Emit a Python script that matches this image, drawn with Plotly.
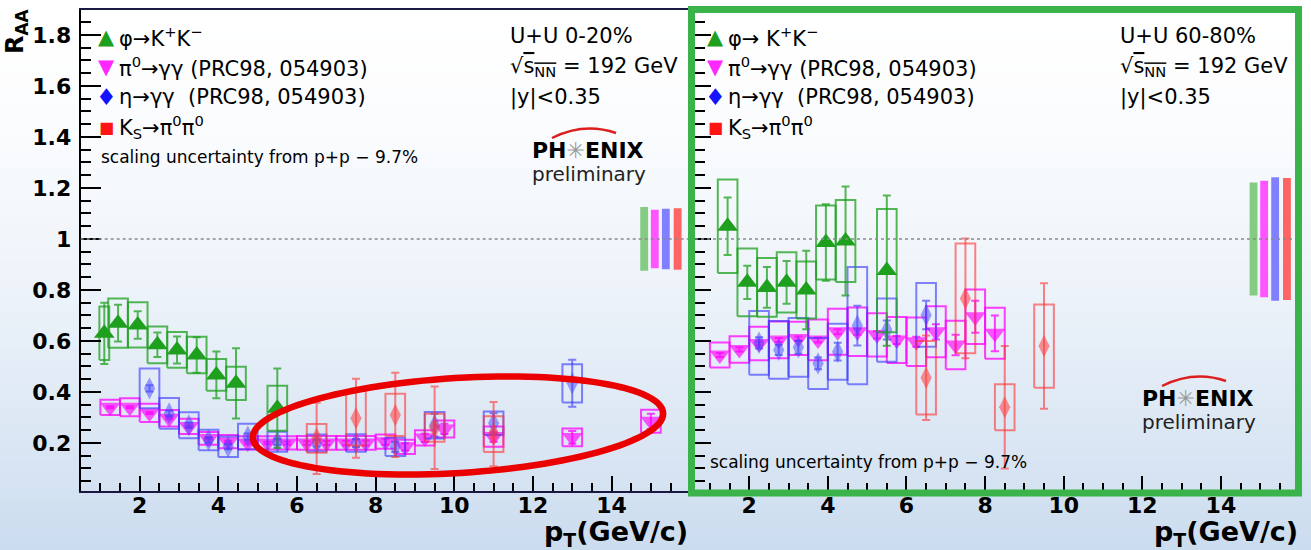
import numpy as np
import plotly.graph_objects as go

W, H = 1311, 550

# ---------------- U+U 0-20% ----------------
PHI_C_X = [1.1, 1.45, 1.95, 2.45, 2.95, 3.45, 3.95, 4.45, 5.5]
PHI_C_Y = [0.63, 0.67, 0.663, 0.585, 0.565, 0.545, 0.467, 0.434, 0.336]
PHI_C_STAT = [0.12, 0.072, 0.054, 0.048, 0.053, 0.07, 0.092, 0.138, 0.156]
PHI_C_SYS = [0.105, 0.097, 0.089, 0.072, 0.07, 0.072, 0.062, 0.065, 0.088]
PHI_C_HW = [0.125, 0.25, 0.25, 0.25, 0.25, 0.25, 0.25, 0.25, 0.25]

PI0_C_X = [1.25, 1.75, 2.25, 2.75, 3.25, 3.75, 4.25, 4.75, 5.25, 5.75, 6.25,
           6.75, 7.25, 7.75, 8.25, 8.75, 9.25, 9.75, 11.0, 13.0, 15.0]
PI0_C_Y = [0.34, 0.34, 0.318, 0.297, 0.265, 0.218, 0.205, 0.2, 0.2, 0.2, 0.2,
           0.2, 0.2, 0.2, 0.205, 0.185, 0.22, 0.255, 0.225, 0.222, 0.285]
PI0_C_STAT = [0.004, 0.004, 0.004, 0.004, 0.004, 0.004, 0.004, 0.005, 0.005, 0.006, 0.007,
              0.008, 0.009, 0.01, 0.012, 0.014, 0.016, 0.02, 0.02, 0.025, 0.03]
PI0_C_SYS = [0.03, 0.035, 0.036, 0.032, 0.03, 0.025, 0.026, 0.026, 0.026, 0.026, 0.027,
             0.027, 0.027, 0.027, 0.028, 0.028, 0.03, 0.033, 0.04, 0.035, 0.045]

ETA_C_X = [2.25, 2.75, 3.25, 3.75, 4.25, 4.75, 5.5, 6.5, 7.5, 8.5, 9.5, 11.0, 13.0]
ETA_C_Y = [0.414, 0.316, 0.27, 0.212, 0.185, 0.225, 0.205, 0.2, 0.2, 0.185, 0.27, 0.277, 0.434]
ETA_C_STAT = [0.012, 0.01, 0.01, 0.01, 0.01, 0.012, 0.012, 0.014, 0.016, 0.02, 0.045, 0.04, 0.092]
ETA_C_SYS = [0.078, 0.06, 0.051, 0.04, 0.04, 0.05, 0.039, 0.033, 0.034, 0.036, 0.052, 0.046, 0.075]

KS_C_X = [6.5, 7.5, 8.5, 9.5, 11.0]
KS_C_Y = [0.218, 0.297, 0.31, 0.26, 0.235]
KS_C_STAT = [0.14, 0.155, 0.165, 0.162, 0.126]
KS_C_SYS = [0.056, 0.107, 0.083, 0.055, 0.07]

# global scaling uncertainties (phi, pi0, eta, Ks)
SCALE_C = [0.125, 0.115, 0.119, 0.121]

# ---------------- U+U 60-80% ----------------
PHI_P_X = [1.45, 1.95, 2.45, 2.95, 3.45, 3.95, 4.45, 5.5]
PHI_P_Y = [1.05, 0.83, 0.81, 0.83, 0.80, 0.986, 0.992, 0.876]
PHI_P_STAT = [0.113, 0.065, 0.08, 0.084, 0.154, 0.15, 0.214, 0.295]
PHI_P_SYS = [0.183, 0.133, 0.115, 0.118, 0.112, 0.145, 0.161, 0.242]

PI0_P_X = [1.25, 1.75, 2.25, 2.75, 3.25, 3.75, 4.25, 4.75, 5.25, 5.75, 6.25, 6.75, 7.25, 7.75, 8.25]
PI0_P_Y = [0.545, 0.567, 0.59, 0.604, 0.61, 0.604, 0.636, 0.636, 0.624, 0.604, 0.597, 0.636, 0.584, 0.695, 0.63]
PI0_P_STAT = [0.008, 0.008, 0.008, 0.008, 0.008, 0.01, 0.01, 0.012, 0.014, 0.016, 0.02, 0.03, 0.04, 0.063, 0.07]
PI0_P_SYS = [0.049, 0.052, 0.066, 0.072, 0.065, 0.08, 0.09, 0.095, 0.085, 0.09, 0.095, 0.1, 0.095, 0.107, 0.1]

ETA_P_X = [2.25, 2.75, 3.25, 3.75, 4.25, 4.75, 5.5, 6.5]
ETA_P_Y = [0.593, 0.565, 0.575, 0.512, 0.558, 0.66, 0.643, 0.702]
ETA_P_STAT = [0.022, 0.02, 0.025, 0.023, 0.035, 0.078, 0.037, 0.056]
ETA_P_SYS = [0.125, 0.113, 0.115, 0.1, 0.11, 0.23, 0.124, 0.125]

KS_P_X = [6.5, 7.5, 8.5, 9.5]
KS_P_Y = [0.456, 0.767, 0.34, 0.58]
KS_P_STAT = [0.166, 0.235, 0.24, 0.246]
KS_P_SYS = [0.144, 0.215, 0.09, 0.163]

SCALE_P = [0.222, 0.228, 0.242, 0.239]
SCALE_X = [14.83, 15.1, 15.38, 15.68]

Y_TICKS = [0.2, 0.4, 0.6, 0.8, 1.0, 1.2, 1.4, 1.6, 1.8]
Y_TICKTEXT = ["0.2", "0.4", "0.6", "0.8", "1", "1.2", "1.4", "1.6", "1.8"]
X_TICKS_L = [2, 4, 6, 8, 10, 12, 14]
X_TICKS_R = [2, 4, 6, 8, 10, 12, 14, 16]

# ---------------- styling ----------------
FONT = "DejaVu Sans"
GREEN_MK, GREEN_BOX = "rgb(30,160,30)", "rgba(30,160,30,0.75)"
MAG_MK, MAG_BOX = "rgba(255,0,255,0.65)", "rgba(255,0,255,0.75)"
BLUE_MK, BLUE_BOX = "rgba(70,70,255,0.5)", "rgba(50,50,255,0.6)"
RED_MK, RED_BOX = "rgba(255,60,60,0.55)", "rgba(255,50,50,0.6)"
BAR_COLORS = ["#84cc84", "#ff55ff", "#8080ff", "#ff6464"]


def px_x(p):
    return p / W


def px_y(p):
    return 1 - p / H


def box_path(xs, ys, sys, hw):
    if np.isscalar(hw):
        hw = [hw] * len(xs)
    bx, by = [], []
    for x, y, s, h in zip(xs, ys, sys, hw):
        bx += [x - h, x + h, x + h, x - h, x - h, None]
        by += [y - s, y - s, y + s, y + s, y - s, None]
    return bx, by


fig = go.Figure()


def add_series(xa, ya, xs, ys, stat, sys, hw, mk_color, box_color, symbol, size):
    bx, by = box_path(xs, ys, sys, hw)
    fig.add_trace(go.Scatter(x=bx, y=by, mode="lines", xaxis=xa, yaxis=ya,
                             line=dict(color=box_color, width=2), hoverinfo="skip",
                             showlegend=False))
    fig.add_trace(go.Scatter(x=xs, y=ys, mode="markers", xaxis=xa, yaxis=ya,
                             marker=dict(symbol=symbol, size=size, color=mk_color,
                                         line=dict(width=0)),
                             error_y=dict(type="data", array=stat, symmetric=True,
                                          color=box_color, thickness=2, width=4),
                             showlegend=False))


def add_panel(xa, ya, phi, pi0, eta, ks, scale, phi_hw):
    add_series(xa, ya, *pi0, 0.25, MAG_MK, MAG_BOX, "triangle-down", 18)
    add_series(xa, ya, *eta, 0.25, BLUE_MK, BLUE_BOX, "diamond-tall", 16)
    add_series(xa, ya, *phi, phi_hw, GREEN_MK, GREEN_BOX, "triangle-up", 18)
    add_series(xa, ya, *ks, 0.25, RED_MK, RED_BOX, "diamond-tall", 16)
    fig.add_trace(go.Bar(x=SCALE_X, y=[2 * e for e in scale], base=[1 - e for e in scale],
                         width=0.2, xaxis=xa, yaxis=ya,
                         marker=dict(color=BAR_COLORS, line=dict(width=0)),
                         showlegend=False))


add_panel("x", "y",
          (PHI_C_X, PHI_C_Y, PHI_C_STAT, PHI_C_SYS),
          (PI0_C_X, PI0_C_Y, PI0_C_STAT, PI0_C_SYS),
          (ETA_C_X, ETA_C_Y, ETA_C_STAT, ETA_C_SYS),
          (KS_C_X, KS_C_Y, KS_C_STAT, KS_C_SYS),
          SCALE_C, PHI_C_HW)
add_panel("x2", "y2",
          (PHI_P_X, PHI_P_Y, PHI_P_STAT, PHI_P_SYS),
          (PI0_P_X, PI0_P_Y, PI0_P_STAT, PI0_P_SYS),
          (ETA_P_X, ETA_P_Y, ETA_P_STAT, ETA_P_SYS),
          (KS_P_X, KS_P_Y, KS_P_STAT, KS_P_SYS),
          SCALE_P, 0.25)

# ---------------- axes ----------------
Y_RANGE = [0.0129, 1.898]
Y_DOM = [px_y(490.7), px_y(10)]
tickfont = dict(family=FONT, size=22, color="black", weight="bold")

xcommon = dict(ticks="inside", ticklen=15, tickwidth=1.5, tickcolor="black",
               showline=True, linecolor="#1a1a40", linewidth=2, showgrid=False,
               zeroline=False, tickfont=tickfont, tickmode="array",
               ticklabelstandoff=-6,
               minor=dict(tickmode="linear", tick0=0, dtick=0.5, ticks="inside",
                          ticklen=8, tickwidth=1.5, tickcolor="black", showgrid=False))
ycommon = dict(ticks="inside", ticklen=20, tickwidth=1.5, tickcolor="black",
               showline=True, linecolor="black", linewidth=2, showgrid=False,
               zeroline=False, tickfont=tickfont, range=Y_RANGE, domain=Y_DOM,
               tickmode="array", tickvals=Y_TICKS, ticktext=Y_TICKTEXT,
               minor=dict(tickmode="linear", tick0=0, dtick=0.05, ticks="inside",
                          ticklen=10, tickwidth=1.5, tickcolor="black", showgrid=False))

fig.update_layout(
    xaxis=dict(xcommon, range=[0.5, 16.0], domain=[px_x(80.7), px_x(690.2)],
               tickvals=X_TICKS_L, anchor="y", mirror=True),
    yaxis=dict(ycommon, anchor="x", ticklabelstandoff=3),
    xaxis2=dict(xcommon, range=[0.62, 16.03], domain=[px_x(695), px_x(1300.7)],
                tickvals=X_TICKS_R, anchor="y2"),
    yaxis2=dict(ycommon, anchor="x2", showticklabels=False, ticklen=16),
    width=W, height=H, margin=dict(l=0, r=0, t=0, b=0),
    paper_bgcolor="white", plot_bgcolor="rgba(0,0,0,0)",
    barmode="overlay", showlegend=False,
)

shapes = []
# slide background: vertical white-to-blue gradient
nb = 110
for i in range(nb):
    t = (i + 0.5) / nb
    f = t ** 1.6
    r = 255 + (203 - 255) * f
    g = 255 + (220 - 255) * f
    b = 255 + (239 - 255) * f
    shapes.append(dict(type="rect", xref="paper", yref="paper", layer="below",
                       x0=0, x1=1, y0=1 - (i + 1) / nb, y1=1 - i / nb,
                       fillcolor=f"rgb({r:.0f},{g:.0f},{b:.0f})", line=dict(width=0)))

# R_AA = 1 reference lines
for xr, yr in (("x domain", "y"), ("x2 domain", "y2")):
    shapes.append(dict(type="line", xref=xr, yref=yr, x0=0, x1=1, y0=1, y1=1,
                       line=dict(color="#8a8a8a", width=1.5, dash="dot")))

# highlight ellipse (slightly tilted)
cx, cy, a, b_, ang = 458, 425.5, 205.5, 47.5, np.deg2rad(-3.5)
tt = np.linspace(0, 2 * np.pi, 121)
ex = cx + a * np.cos(tt) * np.cos(ang) - b_ * np.sin(tt) * np.sin(ang)
ey = cy + a * np.cos(tt) * np.sin(ang) + b_ * np.sin(tt) * np.cos(ang)
path = "M " + " L ".join(f"{px_x(u):.5f},{px_y(v):.5f}" for u, v in zip(ex, ey)) + " Z"
shapes.append(dict(type="path", xref="paper", yref="paper", path=path,
                   line=dict(color="rgb(235,0,0)", width=6.5)))

# green frame around the peripheral panel
shapes.append(dict(type="rect", xref="paper", yref="paper",
                   x0=px_x(691.5), x1=px_x(1298.5), y0=px_y(493), y1=px_y(9.5),
                   line=dict(color="rgb(58,180,74)", width=7)))

# PHENIX logo swooshes
for ox, oy in ((0, 0), (610, 248)):
    x0, y0 = 552 + ox, 138 + oy
    shapes.append(dict(type="path", xref="paper", yref="paper",
                       path=(f"M {px_x(x0):.5f},{px_y(y0):.5f} "
                             f"Q {px_x(x0 + 32):.5f},{px_y(y0 - 16):.5f} "
                             f"{px_x(x0 + 64):.5f},{px_y(y0 - 5):.5f}"),
                       line=dict(color="rgb(220,30,30)", width=2.5)))

fig.update_layout(shapes=shapes)

ann = []


def text(x, y, s, size=20, anchor="left", color="black", bold=False, **kw):
    ann.append(dict(x=px_x(x), y=px_y(y), xref="paper", yref="paper", text=s,
                    showarrow=False, xanchor=anchor, yanchor="middle",
                    font=dict(family=FONT, size=size, color=color,
                              weight="bold" if bold else "normal"), **kw))


LEG_ROWS = [37, 67, 97, 127]
SQRT = '√<span style="text-decoration:overline">s<sub>NN</sub></span> = 192 GeV'
for lx, phi_txt, info_x, cent in ((106, "φ→K<sup>+</sup>K<sup>−</sup>", 508, "U+U 0-20%"),
                                  (715, "φ→ K<sup>+</sup>K<sup>−</sup>", 1118, "U+U 60-80%")):
    text(lx, LEG_ROWS[0], "▲", 21, "center", "rgb(30,160,30)")
    text(lx, LEG_ROWS[1], "▼", 21, "center", "rgb(255,40,255)")
    text(lx, LEG_ROWS[2], "♦", 23, "center", "rgb(20,20,255)")
    text(lx, LEG_ROWS[3], "■", 16, "center", "rgb(255,20,20)")
    text(lx + 11, LEG_ROWS[0], phi_txt, 21)
    text(lx + 11, LEG_ROWS[1], "π<sup>0</sup>→γγ (PRC98, 054903)", 21)
    text(lx + 11, LEG_ROWS[2], "η→γγ  (PRC98, 054903)", 21)
    text(lx + 11, LEG_ROWS[3], "K<sub>S</sub>→π<sup>0</sup>π<sup>0</sup>", 21)
    text(info_x, 36, cent, 21)
    text(info_x, 67, SQRT, 21)
    text(info_x, 97, "|y|<0.35", 21)

text(99, 157, "scaling uncertainty from p+p − 9.7%", 17)
text(708, 462, "scaling uncertainty from p+p − 9.7%", 17)

# PHENIX preliminary tags
for lx, ly in ((530, 150), (1140, 398)):
    text(lx, ly, 'PH<span style="color:#9a9a9a">✳</span>ENIX', 22, bold=True)
    text(lx, ly + 24, "preliminary", 20, color="#222")

# axis titles
ann.append(dict(x=px_x(17), y=px_y(8), xref="paper", yref="paper",
                text="<b>R<sub>AA</sub></b>", showarrow=False, textangle=-90,
                xanchor="center", yanchor="top",
                font=dict(family=FONT, size=24, color="black")))
for xr in (690, 1300):
    text(xr, 533, "<b>p<sub>T</sub>(GeV/c)</b>", 27, "right")

fig.update_layout(annotations=ann)
fig.write_html("out.html")
